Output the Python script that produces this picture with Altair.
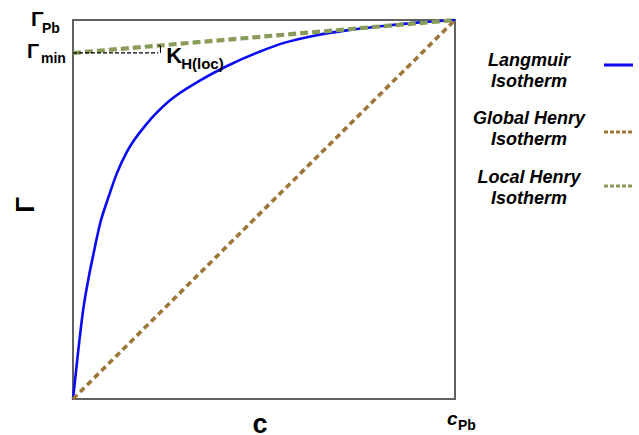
import altair as alt
import pandas as pd

# ---- data (normalised c / c_Pb and Γ / Γ_Pb) ----
c_langmuir = [0.0, 0.014, 0.027, 0.040, 0.053, 0.071, 0.092, 0.115, 0.141, 0.193, 0.254,
              0.332, 0.402, 0.490, 0.550, 0.638, 0.725, 0.812, 0.900, 1.0]
g_langmuir = [0.0, 0.130, 0.238, 0.315, 0.380, 0.463, 0.530, 0.596, 0.652, 0.726, 0.788,
              0.840, 0.878, 0.917, 0.939, 0.960, 0.974, 0.984, 0.993, 1.0]
c_global = [0.0, 1.0]
g_global = [0.0, 1.0]
c_local = [0.0, 1.0]
g_local = [0.913, 1.0]
gamma_min = 0.913
k_marker_c = 0.223

BLUE = "#0a0af5"
BROWN = "#9e763a"
GREEN = "#8a9c5a"
FONT = "Liberation Sans"

xs = alt.Scale(domain=[0, 1], nice=False, zero=False)
ys = alt.Scale(domain=[0, 1], nice=False, zero=False)


def X(f="x"):
    return alt.X(f"{f}:Q", scale=xs, axis=None)


def Y(f="y"):
    return alt.Y(f"{f}:Q", scale=ys, axis=None)


lang = alt.Chart(pd.DataFrame({"x": c_langmuir, "y": g_langmuir})).mark_line(
    color=BLUE, strokeWidth=2.6, interpolate="monotone"
).encode(x=X(), y=Y())

glob = alt.Chart(pd.DataFrame({"x": c_global, "y": g_global})).mark_line(
    color=BROWN, strokeWidth=3.6, strokeDash=[6, 4]
).encode(x=X(), y=Y())

loc = alt.Chart(pd.DataFrame({"x": c_local, "y": g_local})).mark_line(
    color=GREEN, strokeWidth=4.2, strokeDash=[8, 4]
).encode(x=X(), y=Y())

kline = alt.Chart(pd.DataFrame({"x": [0.0], "x2": [k_marker_c], "y": [gamma_min]})).mark_rule(
    color="black", strokeWidth=1.2, strokeDash=[4, 2]
).encode(x=X(), x2="x2:Q", y=Y())

kbr = alt.Chart(pd.DataFrame({"x": [k_marker_c + 0.006], "y": [gamma_min], "y2": [gamma_min + 0.019]})).mark_rule(
    color="black", strokeWidth=1
).encode(x=X(), y=Y(), y2="y2:Q")
kbr2 = alt.Chart(pd.DataFrame({"x": [k_marker_c + 0.0], "x2": [k_marker_c + 0.006], "y": [gamma_min + 0.019]})).mark_rule(
    color="black", strokeWidth=1
).encode(x=X(), x2="x2:Q", y=Y())


def label(txt, x, y, dx, dy, size, italic=False, align="left", baseline="alphabetic", angle=0):
    return alt.Chart(pd.DataFrame({"x": [x], "y": [y], "t": [txt]})).mark_text(
        dx=dx, dy=dy, fontSize=size, font=FONT, fontWeight="bold",
        fontStyle="italic" if italic else "normal", align=align,
        baseline=baseline, color="black", angle=angle
    ).encode(x=X(), y=Y(), text="t:N")


labels = [
    label("Γ", 0, 1, -42, 6, 21),
    label("Pb", 0, 1, -31, 13, 14),
    label("Γ", 0, gamma_min, -46, 5, 20),
    label("min", 0, gamma_min, -32, 10, 14),
    label("K", k_marker_c, gamma_min, 8, 10, 22),
    label("H(loc)", k_marker_c, gamma_min, 23, 16, 15),
    label("c", 0.5, 0, -4, 34, 27, align="center"),
    label("c", 1, 0, -8, 26, 19, italic=True),
    label("Pb", 1, 0, 3, 31, 14),
    label("Γ", 0, 0.5, 4.5, -47.5, 26, align="center", baseline="middle", angle=270),
]

leg_text = ["Langmuir\nIsotherm", "Global Henry\nIsotherm", "Local Henry\nIsotherm"]
leg_y = [46, 104, 163]
leg_line_y = [45, 112, 166]
leg_cols = [BLUE, BROWN, GREEN]
leg_dash = [[1, 0], [4, 2], [4, 2]]

legend = []
for t, ty, ly, col, dash in zip(leg_text, leg_y, leg_line_y, leg_cols, leg_dash):
    legend.append(
        alt.Chart(pd.DataFrame({"t": [t]})).mark_text(
            font=FONT, fontSize=18, fontWeight="bold", fontStyle="italic",
            align="center", baseline="alphabetic", lineBreak="\n", lineHeight=21, color="black"
        ).encode(x=alt.value(456), y=alt.value(ty), text="t:N")
    )
    legend.append(
        alt.Chart(pd.DataFrame({"t": [t]})).mark_rule(
            color=col, strokeWidth=3, strokeDash=dash
        ).encode(x=alt.value(531), x2=alt.value(560), y=alt.value(ly))
    )

chart = alt.layer(lang, glob, loc, kline, kbr, kbr2, *labels, *legend).properties(
    width=382, height=379,
    padding={"left": 73, "top": 20, "right": 184, "bottom": 36},
    autosize=alt.AutoSizeParams(type="none"),
    background="white",
).configure_view(stroke="#606060", strokeWidth=2)

chart.save("out.html", embed_options={"renderer": "svg", "actions": False})
